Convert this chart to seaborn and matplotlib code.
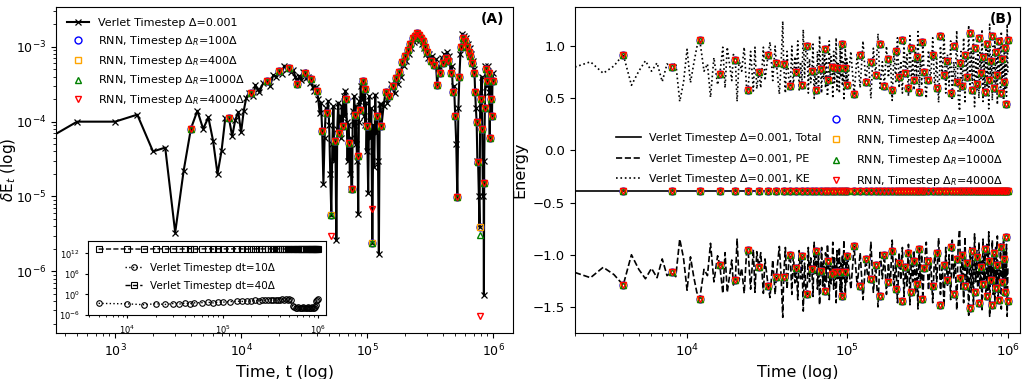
import numpy as np
import matplotlib
matplotlib.use("Agg")
import matplotlib.pyplot as plt
import matplotlib.ticker as mticker
import seaborn as sns

# ---------------- Panel A : energy error, Verlet reference ----------------
# time in units of 1e3, dE in units of 1e-4
verlet_A_t = ([0.25, 0.5, 1.0, 1.5, 2.0, 2.5, 3.0, 3.5, 4.0, 4.5, 5.0, 5.5, 6.0, 6.5, 7.0,
               7.5, 8.0, 8.5, 9.0, 9.5, 10.0, 10.5, 11.0, 11.5, 12.0, 12.5, 13.0, 13.5, 14.0]
              + list(range(15, 101))
              + [102, 104, 106, 108, 110, 112, 114, 116, 118, 120, 122, 124, 126, 128, 130]
              + list(range(135, 311, 5))
              + list(range(320, 841, 10)) + [845] + list(range(850, 1001, 10)))
verlet_A_dE = [0.51, 1.0, 1.0, 1.24, 0.40, 0.45, 0.033, 0.22, 0.81, 1.4, 0.80, 1.14, 0.55, 0.20, 0.41,
               1.13, 1.12, 0.64, 1.06, 1.35, 0.72, 1.4, 2.1, 2.4, 2.4, 2.2, 3.1, 2.7, 2.5,
               # 15 .. 100
               3.3, 3.45, 3.0, 4.2, 4.0, 4.8, 4.4, 5.6, 5.0, 5.2,
               4.6, 4.9, 3.9, 3.2, 4.1, 3.6, 4.6, 4.5, 3.8, 4.0,
               3.3, 3.7, 2.9, 2.6, 2.9, 2.6, 2.0, 1.3, 1.8, 0.76,
               0.145, 0.6, 1.5, 1.3, 1.9, 0.9, 0.2, 0.056, 0.5, 1.6,
               0.3, 0.55, 0.026, 0.8, 1.8, 0.71, 1.2, 0.6, 1.6, 0.87,
               2.2, 1.2, 2.6, 2.0, 1.0, 0.3, 0.9, 0.52, 0.2, 0.6,
               0.127, 0.127, 1.4, 0.9, 2.2, 1.24, 0.5, 1.6, 0.3, 0.35,
               0.058, 1.0, 1.9, 1.45, 3.0, 2.0, 3.5, 3.45, 2.0, 3.0,
               1.2, 2.7, 0.9, 1.8, 0.4, 0.87,
               # 102 .. 130
               0.11, 2.2, 0.6, 1.5, 0.024, 0.9, 0.25, 2.3, 0.7, 1.18, 0.3, 0.017, 1.7, 1.74, 0.87,
               # 135 .. 310
               1.6, 2.5, 1.8, 2.2, 3.2, 3.0, 2.4, 3.8, 3.2, 4.6,
               4.0, 6.2, 5.5, 7.5, 6.5, 9.0, 8.0, 11, 9.5, 13,
               11.5, 14, 12.5, 15.5, 13.5, 14.5, 12.5, 13, 11, 12,
               9.5, 10, 8.0, 8.5, 7.0, 8.0,
               # 320 .. 1000
               6.5, 7.5, 5.8, 6.8, 3.1, 5.5, 4.5, 7.0, 6.0, 8.0,
               7.0, 8.5, 6.5, 7.5, 4.5, 5.5, 2.5, 3.0, 1.2, 0.5,
               0.097, 1.5, 4.0, 8.0, 10, 15, 13, 14, 12, 13,
               10, 11, 8.5, 9.5, 7.5, 8.0, 6.0, 6.5, 4.5, 5.0,
               2.5, 1.5, 1.0, 0.3, 0.29, 0.1, 0.039, 2.5, 2.0, 4.0,
               0.8, 0.1, 0.15, 0.0048, 0.3, 1.5, 5.5, 5.0, 3.0, 3.5,
               5.5, 4.5, 2.5, 0.6, 3.5, 2.0, 4.0, 1.2, 4.5, 3.5]

# RNN sample times (units of 1e3), shared by both panels
rnn_t = list(range(4, 101, 4)) + list(range(110, 301, 10)) + list(range(320, 1001, 20))
rnn_A_dE = [0.81, 1.12, 2.4, 3.45, 4.8, 5.2, 3.2, 4.5, 3.7, 2.6, 0.76, 1.3, 0.056, 0.55, 0.71,
            0.87, 2.0, 0.52, 0.127, 1.24, 0.35, 1.45, 3.45, 2.7, 0.87,
            0.024, 1.18, 0.87, 2.5, 2.2, 3.0, 3.8, 4.6, 6.2, 7.5, 9.0, 11, 13, 14, 15.5,
            14.5, 13, 12, 10, 8.5,
            6.5, 5.8, 3.1, 4.5, 6.0, 7.0, 6.5, 4.5, 2.5, 1.2, 0.097, 4.0, 10, 13, 12, 10,
            8.5, 7.5, 6.0, 4.5, 2.5, 1.0, 0.29, 0.039, 2.0, 0.8, 0.15, 1.5, 5.0, 3.5, 4.5,
            0.6, 2.0, 1.2, 3.5]
# points where a given RNN run departs from the others (time -> dE)
rnn_A_diff = {
    "1000": {780: 0.031},
    "4000": {52: 0.030, 110: 0.069, 780: 0.0025},
}

# inset: larger Verlet timesteps
inset_t = [5, 10, 15, 20, 25, 30, 35, 40, 45, 50, 60, 70, 80, 90, 100] + list(range(120, 1001, 20))
inset_dt10 = [2.5e-3, 1.8e-3, 1.0e-3, 2.0e-3, 1.2e-3, 2.2e-3, 1.5e-3, 3.0e-3, 2.0e-3, 3.5e-3,
              4.0e-3, 5.0e-3, 3.5e-3, 6.0e-3, 5.5e-3,
              8e-3, 1.1e-2, 9e-3, 1.4e-2, 1.2e-2, 1.8e-2, 1.6e-2, 2.2e-2, 2.0e-2, 2.8e-2,
              2.4e-2, 3.0e-2, 2.6e-2, 3.2e-2, 2.8e-2, 3.5e-2, 3.0e-2, 3.6e-2, 3.2e-2, 3.8e-2,
              3.0e-2, 5e-4, 2e-4, 1.5e-4, 1e-4, 2e-4, 1.2e-4, 1.5e-4, 1e-4, 2e-4,
              1.2e-4, 1.5e-4, 1e-4, 2e-4, 1.5e-4, 1e-4, 1.5e-4, 2e-4, 1.2e-4, 1.5e-4,
              2e-4, 1e-3, 1e-2, 3e-2, 4e-2]
inset_dt40 = [1.8e13, 2.0e13, 1.7e13, 2.2e13, 1.9e13, 2.1e13, 1.8e13, 2.0e13, 2.3e13, 1.9e13,
              2.0e13, 2.2e13, 1.8e13, 2.1e13, 2.0e13,
              1.9e13, 2.2e13, 2.0e13, 1.8e13, 2.1e13, 2.0e13, 2.3e13, 1.9e13, 2.0e13, 2.2e13,
              1.8e13, 2.0e13, 2.1e13, 1.9e13, 2.2e13, 2.0e13, 1.8e13, 2.1e13, 2.0e13, 2.2e13,
              1.9e13, 2.0e13, 2.1e13, 1.8e13, 2.0e13, 2.2e13, 1.9e13, 2.1e13, 2.0e13, 1.8e13,
              2.2e13, 2.0e13, 1.9e13, 2.1e13, 2.0e13, 2.2e13, 1.8e13, 2.0e13, 2.1e13, 1.9e13,
              2.0e13, 2.2e13, 1.9e13, 2.1e13, 2.0e13]

# ---------------- Panel B : energies ----------------
verlet_B_t = ([2.0, 2.5, 3.0, 3.5, 4.0, 4.5, 5.0, 5.5, 6.0, 6.5, 7.0, 7.5, 8.0, 8.5, 9.0, 9.5,
               10.0, 10.5, 11.0, 11.5, 12.0, 12.75, 13.4, 14.0, 14.7, 15.5, 16.0, 16.7, 17.25,
               17.8, 19.0, 19.45, 20.0, 20.5, 21.1, 21.9, 22.7, 23.5, 24.0, 24.9, 25.9, 26.5,
               27.2, 28.0, 28.8, 29.9, 30.6, 32.0, 32.9, 34.2, 35.4, 36.0, 37.6, 38.5, 39.5]
              + list(range(40, 101)) + list(range(105, 301, 5)) + list(range(310, 1001, 10)))
verlet_B_KE = [0.80, 0.85, 0.74, 0.81, 0.92, 0.625, 0.76, 0.86, 0.76, 0.84, 0.66, 0.83, 0.80, 0.84,
               0.47, 0.65, 0.97, 0.65, 0.83, 0.99, 1.06, 0.76, 0.83, 0.51, 0.89, 0.63, 0.73, 0.99,
               0.60, 0.99, 0.67, 0.92, 0.87, 0.47, 0.87, 0.76, 0.99, 0.60, 0.58, 0.95, 0.57, 0.99,
               0.59, 0.75, 0.60, 0.99, 0.67, 0.92, 1.04, 0.67, 1.00, 0.84, 0.54, 0.80, 1.24,
               # 40 .. 100
               0.83, 0.55, 0.95, 0.70, 0.62, 1.00, 0.60, 0.90, 0.75, 1.05,
               0.58, 0.85, 0.63, 1.16, 0.70, 0.95, 1.00, 0.55, 0.88, 0.65,
               0.76, 1.02, 0.50, 0.80, 0.58, 0.95, 0.62, 1.10, 0.78, 0.55,
               0.92, 0.68, 0.97, 0.60, 0.88, 0.52, 0.68, 1.05, 0.70, 0.90,
               0.80, 0.50, 0.95, 0.65, 0.79, 1.08, 0.58, 0.85, 0.79, 0.55,
               0.98, 0.70, 1.02, 0.62, 0.85, 0.48, 0.79, 1.00, 0.60, 0.88, 0.63,
               # 105 .. 300
               0.95, 0.54, 0.92, 0.60, 1.05, 0.66, 0.88, 0.50, 0.98, 0.72,
               1.12, 0.58, 0.85, 0.62, 1.00, 0.70, 0.90, 0.48, 0.95, 0.66,
               1.08, 0.60, 0.86, 0.55, 1.02, 0.74, 0.92, 0.52, 1.10, 0.64,
               0.88, 0.58, 1.00, 0.70, 1.14, 0.56, 0.90, 0.62, 1.05, 0.75,
               # 310 .. 1000
               0.50, 0.96, 0.65, 1.08, 0.58, 0.88, 0.46, 1.00, 0.70, 1.12,
               0.55, 0.92, 0.62, 1.05, 0.48, 0.85, 0.66, 1.15, 0.52, 0.38,
               0.95, 0.60, 1.08, 0.45, 0.90, 0.70, 1.20, 0.55, 0.98, 0.64,
               1.10, 0.42, 0.88, 0.58, 1.02, 0.50, 0.94, 0.68, 1.16, 0.47,
               0.86, 0.60, 1.05, 0.52, 0.96, 0.40, 1.21, 0.66, 0.90, 0.48,
               1.00, 0.62, 1.12, 0.55, 0.92, 0.44, 1.06, 0.70, 0.98, 0.50,
               1.14, 0.64, 0.88, 0.46, 1.02, 0.58, 0.94, 0.52, 1.21, 0.75]
verlet_B_PE = [-1.17, -1.22, -1.12, -1.19, -1.29, -1.00, -1.14, -1.23, -1.13, -1.22, -1.04, -1.20,
               -1.17, -1.21, -0.85, -1.03, -1.34, -1.02, -1.21, -1.36, -1.42, -1.14, -1.20, -0.89,
               -1.26, -1.01, -1.10, -1.37, -0.98, -1.36, -1.05, -1.29, -1.24, -0.85, -1.25, -1.13,
               -1.37, -0.97, -0.95, -1.33, -0.95, -1.36, -0.97, -1.12, -0.98, -1.37, -1.04, -1.30,
               -1.41, -1.05, -1.38, -1.21, -0.92, -1.18, -1.60,
               # 40 .. 100
               -1.21, -0.93, -1.33, -1.08, -1.00, -1.38, -0.98, -1.27, -1.13, -1.43,
               -0.96, -1.23, -1.01, -1.54, -1.08, -1.33, -1.38, -0.93, -1.26, -1.03,
               -1.14, -1.40, -0.88, -1.18, -0.96, -1.33, -1.00, -1.48, -1.16, -0.93,
               -1.30, -1.06, -1.35, -0.98, -1.26, -0.90, -1.06, -1.43, -1.08, -1.28,
               -1.18, -0.88, -1.33, -1.03, -1.17, -1.46, -0.96, -1.23, -1.17, -0.93,
               -1.36, -1.08, -1.40, -1.00, -1.23, -0.86, -1.17, -1.38, -0.98, -1.26, -1.01,
               # 105 .. 300
               -1.33, -0.92, -1.30, -0.98, -1.43, -1.04, -1.26, -0.88, -1.36, -1.10,
               -1.50, -0.96, -1.23, -1.00, -1.38, -1.08, -1.28, -0.86, -1.33, -1.04,
               -1.46, -0.98, -1.24, -0.93, -1.40, -1.12, -1.30, -0.90, -1.48, -1.02,
               -1.26, -0.96, -1.38, -1.08, -1.52, -0.94, -1.28, -1.00, -1.43, -1.13,
               # 310 .. 1000
               -0.88, -1.34, -1.03, -1.46, -0.96, -1.26, -0.84, -1.38, -1.08, -1.50,
               -0.93, -1.30, -1.00, -1.43, -0.86, -1.23, -1.04, -1.53, -0.90, -0.76,
               -1.33, -0.98, -1.46, -0.83, -1.28, -1.08, -1.58, -0.93, -1.36, -1.02,
               -1.48, -0.80, -1.26, -0.96, -1.40, -0.88, -1.32, -1.06, -1.54, -0.85,
               -1.24, -0.98, -1.43, -0.90, -1.34, -0.78, -1.59, -1.04, -1.28, -0.86,
               -1.38, -1.00, -1.50, -0.93, -1.30, -0.82, -1.44, -1.08, -1.36, -0.88,
               -1.52, -1.02, -1.26, -0.84, -1.40, -0.96, -1.32, -0.90, -1.59, -1.13]
total_E = -0.385

rnn_B_KE = [0.92, 0.80, 1.06, 0.73, 0.87, 0.58, 0.75, 0.92, 0.84, 0.83, 0.62, 0.75, 0.63, 1.00,
            0.76, 0.58, 0.78, 0.97, 0.68, 0.80, 0.79, 0.79, 1.02, 0.79, 0.63,
            0.54, 0.92, 0.66, 0.85, 0.72, 1.02, 0.62, 0.88, 0.58, 0.95, 0.70, 1.06, 0.74, 0.60,
            0.98, 0.68, 0.90, 0.56, 1.04, 0.75,
            0.68, 0.92, 0.60, 1.10, 0.72, 0.86, 0.55, 1.00, 0.66, 0.84, 0.62, 0.92, 0.70, 1.13,
            0.58, 0.98, 0.64, 1.08, 0.74, 0.90, 0.56, 1.02, 0.68, 0.86, 1.10, 0.60, 0.94, 0.72,
            1.05, 0.55, 0.88, 0.66, 0.98, 0.45, 1.06]
rnn_B_PE = [-1.29, -1.17, -1.42, -1.10, -1.24, -0.95, -1.12, -1.30, -1.21, -1.21, -1.00, -1.13,
            -1.01, -1.38, -1.14, -0.96, -1.16, -1.35, -1.06, -1.18, -1.17, -1.17, -1.40, -1.17,
            -1.01,
            -0.92, -1.30, -1.04, -1.23, -1.10, -1.40, -1.00, -1.26, -0.96, -1.33, -1.08, -1.44,
            -1.12, -0.98, -1.36, -1.06, -1.28, -0.94, -1.42, -1.13,
            -1.06, -1.30, -0.98, -1.48, -1.10, -1.24, -0.93, -1.38, -1.04, -1.22, -1.00, -1.30,
            -1.08, -1.51, -0.96, -1.36, -1.02, -1.46, -1.12, -1.28, -0.94, -1.40, -1.06, -1.24,
            -1.48, -0.98, -1.32, -1.10, -1.43, -0.93, -1.26, -1.04, -1.36, -0.83, -1.44]

rnn_runs = ["100", "400", "1000", "4000"]
rnn_colors = {"100": "blue", "400": "orange", "1000": "green", "4000": "red"}
rnn_markers = {"100": "o", "400": "s", "1000": "^", "4000": "v"}

# ---------------- figure ----------------
fig = plt.figure(figsize=(10.28, 3.79), dpi=100)
axA = fig.add_axes([0.0545, 0.1214, 0.4446, 0.860])
axB = fig.add_axes([0.5593, 0.1214, 0.4329, 0.860])
axI = fig.add_axes([0.0856, 0.1689, 0.2315, 0.196])

for ax in (axA, axI):
    ax.set_xscale("log")
    ax.set_yscale("log")
axB.set_xscale("log")

tA = np.array(verlet_A_t) * 1e3
tR = np.array(rnn_t) * 1e3

sns.lineplot(x=tA, y=np.array(verlet_A_dE) * 1e-4, ax=axA, sort=False, estimator=None,
             color="k", lw=1.5, marker="x", markersize=4.5, markeredgecolor="k",
             markeredgewidth=0.9, label="Verlet Timestep Δ=0.001", legend=False)

mk = dict(linestyle="", markersize=5, markerfacecolor="none", markeredgewidth=1.0,
          sort=False, estimator=None, legend=False)
for run in rnn_runs:
    vals = np.array(rnn_A_dE, dtype=float)
    for tk, v in rnn_A_diff.get(run, {}).items():
        vals[rnn_t.index(tk)] = v
    lab = r"RNN, Timestep $\Delta_R$=" + run + "Δ"
    sns.lineplot(x=tR, y=vals * 1e-4, ax=axA, marker=rnn_markers[run],
                 markeredgecolor=rnn_colors[run], color=rnn_colors[run], label=lab, **mk)

axA.set_xlim(340, 1.44e6)
axA.set_ylim(1.5e-7, 3.4e-3)
axA.set_xlabel("Time, t (log)", fontsize=11.5)
axA.set_ylabel(r"$\delta$E$_t$ (log)", fontsize=11)
axA.yaxis.set_label_coords(-0.083, 0.5)
axA.tick_params(labelsize=9)
axA.legend(loc="upper left", frameon=False, fontsize=8, labelspacing=0.52,
           handlelength=2.0, borderaxespad=0.6)
axA.text(0.98, 0.985, "(A)", transform=axA.transAxes, ha="right", va="top",
         fontsize=10, fontweight="bold")

# inset
tI = np.array(inset_t) * 1e3
sns.lineplot(x=tI, y=inset_dt10, ax=axI, sort=False, estimator=None, color="k",
             linestyle=":", lw=1.0, marker="o", markersize=4, markerfacecolor="none",
             markeredgecolor="k", markeredgewidth=0.8, label="Verlet Timestep dt=10Δ",
             legend=False)
sns.lineplot(x=tI, y=inset_dt40, ax=axI, sort=False, estimator=None, color="k",
             linestyle="--", lw=1.0, marker="s", markersize=4, markerfacecolor="none",
             markeredgecolor="k", markeredgewidth=0.8, label="Verlet Timestep dt=40Δ",
             legend=False)
axI.set_xlim(3870, 1.21e6)
axI.set_ylim(1e-6, 5e15)
axI.set_yticks([1e-6, 1e0, 1e6, 1e12])
axI.yaxis.set_minor_locator(mticker.NullLocator())
axI.set_xticks([1e4, 1e5, 1e6])
axI.tick_params(labelsize=6, length=2.5)
axI.tick_params(which="minor", length=1.5)
axI.legend(loc="upper left", bbox_to_anchor=(0.14, 0.76), frameon=False, fontsize=7.5,
           handlelength=1.6, labelspacing=0.75, borderaxespad=0)

# panel B
tB = np.array(verlet_B_t) * 1e3
sns.lineplot(x=tB, y=[total_E] * len(tB), ax=axB, sort=False, estimator=None, color="k",
             lw=1.2, linestyle="-", label="Verlet Timestep Δ=0.001, Total", legend=False)
sns.lineplot(x=tB, y=verlet_B_PE, ax=axB, sort=False, estimator=None, color="k",
             lw=1.2, linestyle="--", label="Verlet Timestep Δ=0.001, PE", legend=False)
sns.lineplot(x=tB, y=verlet_B_KE, ax=axB, sort=False, estimator=None, color="k",
             lw=1.2, linestyle=":", label="Verlet Timestep Δ=0.001, KE", legend=False)

for run in rnn_runs:
    lab = r"RNN, Timestep $\Delta_R$=" + run + "Δ"
    for j, series in enumerate((rnn_B_KE, [total_E] * len(tR), rnn_B_PE)):
        sns.lineplot(x=tR, y=series, ax=axB, marker=rnn_markers[run],
                     markeredgecolor=rnn_colors[run], color=rnn_colors[run],
                     label=lab if j == 0 else "_nolegend_", **mk)

axB.set_xlim(2000, 1.19e6)
axB.set_ylim(-1.75, 1.375)
axB.set_yticks([-1.5, -1.0, -0.5, 0.0, 0.5, 1.0])
axB.set_xlabel("Time (log)", fontsize=11.5)
axB.set_ylabel("Energy", fontsize=11.5)
axB.tick_params(labelsize=9.5)

h, l = axB.get_legend_handles_labels()
leg1 = axB.legend(h[:3], l[:3], loc="upper left", bbox_to_anchor=(0.07, 0.645),
                  frameon=False, fontsize=8, labelspacing=0.97, handlelength=2.2)
axB.add_artist(leg1)
axB.legend(h[3:], l[3:], loc="upper left", bbox_to_anchor=(0.54, 0.705),
           frameon=False, fontsize=8, labelspacing=0.55, handlelength=2.0)
axB.text(0.985, 0.985, "(B)", transform=axB.transAxes, ha="right", va="top",
         fontsize=10, fontweight="bold")

fig.savefig("out.png", dpi=100)
